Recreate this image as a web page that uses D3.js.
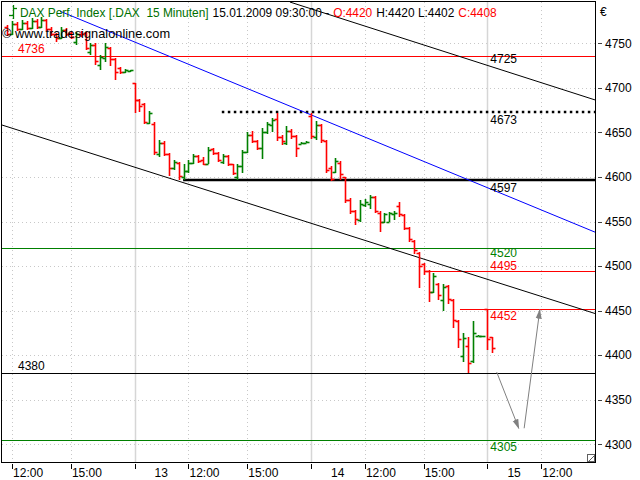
<!DOCTYPE html>
<html><head><meta charset="utf-8">
<script src="https://cdn.jsdelivr.net/npm/d3@7"></script>
<style>html,body{margin:0;padding:0;background:#fff;} svg{display:block;font-family:"Liberation Sans",Arial,sans-serif;}</style>
</head><body><svg id="c" width="640" height="480"></svg>
<script>
// ---- data ----
const firstBar = 10; // index of first visible 15-minute bar (36 bars per day)
const opens  = [4768,4761,4772,4766,4773,4767,4775,4768,4776,4766,4760,4756,4765,4762,4752,4761,4762,4740,4748,4726,4733,4745,4732,4722,4718,4719,
  4705,4686,4682,4661,4660,4626,4638,4626,4610,4616,4600,4607,4616,4624,4619,4614,4631,4627,4617,4623,4614,4600,4612,4628,4647,4640,4633,4650,4658,4665,4645,4638,4652,4646,4637,4638,
  4668,4645,4658,4640,4610,4606,4616,4600,4574,4562,4552,4568,4570,4578,4560,4549,4550,4558,4567,4557,4543,4528,4515,4502,4495,4471,4480,4462,4478,4462,4438,4399,4410,4393,4422,4421,
  4452,4420];
const highs  = [4770,4775,4774,4776,4775,4778,4777,4779,4777,4768,4762,4768,4767,4764,4763,4764,4763,4750,4750,4737,4750,4746,4733,4723,4721,4720,
  4706,4687,4683,4674,4662,4641,4640,4627,4619,4617,4614,4619,4626,4625,4622,4634,4632,4628,4626,4625,4614,4614,4630,4650,4652,4641,4655,4662,4666,4672,4647,4657,4654,4647,4639,4640,
  4672,4663,4659,4641,4612,4621,4618,4600,4576,4563,4574,4575,4580,4579,4562,4560,4561,4562,4572,4558,4544,4529,4516,4503,4496,4492,4481,4480,4479,4463,4440,4425,4420,4438,4423,4422,
  4452,4420];
const lows   = [4758,4759,4764,4765,4765,4766,4766,4767,4764,4758,4752,4755,4758,4755,4748,4757,4742,4737,4726,4720,4729,4725,4709,4715,4717,4718,
  4672,4673,4659,4659,4625,4622,4623,4601,4608,4597,4597,4605,4614,4616,4613,4614,4625,4617,4615,4612,4602,4597,4605,4627,4638,4630,4620,4648,4650,4640,4636,4636,4643,4622,4637,4638,
  4643,4642,4638,4604,4595,4604,4597,4571,4559,4546,4550,4566,4564,4560,4538,4548,4549,4552,4555,4540,4527,4514,4475,4490,4460,4470,4462,4450,4458,4430,4408,4392,4380,4391,4421,4420,
  4406,4402];
const closes = [4761,4772,4766,4773,4767,4775,4768,4776,4766,4760,4756,4765,4760,4757,4761,4760,4745,4748,4730,4735,4746,4732,4718,4718,4720,4720,
  4686,4680,4662,4672,4628,4638,4626,4610,4617,4601,4607,4616,4624,4618,4614,4630,4627,4619,4623,4614,4604,4612,4628,4647,4640,4633,4650,4660,4664,4645,4640,4652,4646,4632,4638,4639,
  4646,4658,4641,4608,4598,4618,4603,4574,4562,4553,4570,4572,4578,4562,4549,4558,4560,4560,4558,4543,4530,4518,4500,4495,4471,4489,4467,4477,4463,4440,4418,4419,4391,4425,4422,4421,
  4418,4408];

const yTicks = [4300,4350,4400,4450,4500,4550,4600,4650,4700,4750];
const xTickIndex  = [11,23,36,47,59,72,83,95,108,119];
const xTickLabels = ["12:00","15:00","13","12:00","15:00","14","12:00","15:00","15","12:00"];
const dayTickIndex = [36,72,108];

const levelValues = [4736,4673,4597,4520,4495,4452,4380,4305];
const levelStart  = [null,53.8,45.9,null,95.5,102.4,null,null];
const levelLabels = ["4736","4673","4597","4520","4495","4452","4380","4305"];

const trendBlue  = [[20.8,4786],[130,4538]];
const trendUpper = [[67.7,4796.3],[130,4686.4]];
const trendLower = [[8.94,4658.3],[130,4446.7]];
const trendUpperLabel = "4725";
const arrowDown = [[109.9,4381],[114.4,4318]];
const arrowUp   = [[115.5,4318],[118.7,4451]];

const titleParts = ["DAX Perf. Index [.DAX  15 Minuten]", "15.01.2009 09:30:00 -", "O:4420", "H:4420 L:4402", "C:4408"];
const titleColors = ["#007000", "#000", "#ff0000", "#000", "#ff0000"];

// ---- drawing ----
const svg = d3.select("#c");
const L = 2, R = 595, T = 2, B = 462;
const x = d3.scaleLinear().domain([8.94, 129.96]).range([L, R]);
const y = d3.scaleLinear().domain([4280.14, 4796.35]).range([B, T]);
const RED = "#ff0000", GREEN = "#008000";

svg.append("defs").append("clipPath").attr("id","plot")
  .append("rect").attr("x",L).attr("y",T).attr("width",R-L).attr("height",B-T);
svg.select("defs").append("marker").attr("id","ah")
  .attr("viewBox","0 0 10 10").attr("refX",9).attr("refY",5)
  .attr("markerWidth",10).attr("markerHeight",14).attr("markerUnits","userSpaceOnUse")
  .attr("orient","auto")
  .append("path").attr("d","M0,2 L10,5 L0,8 Z").attr("fill","#808080");

const g = svg.append("g").attr("clip-path","url(#plot)");

// grid
g.selectAll(".hg").data(yTicks).enter().append("line")
  .attr("x1",L).attr("x2",R).attr("y1",d=>Math.round(y(d))+0.5).attr("y2",d=>Math.round(y(d))+0.5)
  .attr("stroke","#c8c8c8").attr("stroke-dasharray","1,3");
g.selectAll(".vg").data(xTickIndex).enter().append("line")
  .attr("x1",d=>Math.round(x(d))+0.5).attr("x2",d=>Math.round(x(d))+0.5).attr("y1",T).attr("y2",B)
  .attr("stroke",d=>dayTickIndex.includes(d)?"#d6d6d6":"#c8c8c8")
  .attr("stroke-width",d=>dayTickIndex.includes(d)?1.5:1)
  .attr("stroke-dasharray",d=>dayTickIndex.includes(d)?null:"1,3");

// level lines
const lvlStyle = [
  {c:RED, w:1, side:"L", dy:-3},
  {c:"#000", w:2.5, dash:"2.5,3.5", side:"R", dy:12.5},
  {c:"#000", w:2.5, side:"R", dy:12.5},
  {c:GREEN, w:1, side:"R", dy:8.8},
  {c:RED, w:1, side:"R", dy:-0.3},
  {c:RED, w:1, side:"R", dy:11.5},
  {c:"#000", w:1, side:"L", dy:-3},
  {c:GREEN, w:1, side:"R", dy:11}
];
levelValues.forEach((v,i)=>{
  const s = lvlStyle[i];
  const yy = Math.round(y(v)) + (s.w%2===1?0.5:0);
  g.append("line").attr("x1", levelStart[i]==null? L : x(levelStart[i])).attr("x2",R)
    .attr("y1",yy).attr("y2",yy).attr("stroke",s.c).attr("stroke-width",s.w)
    .attr("stroke-dasharray",s.dash||null);
});

// trend lines
const tl = d3.line().x(d=>x(d[0])).y(d=>y(d[1]));
g.append("path").attr("d",tl(trendUpper)).attr("stroke","#000").attr("fill","none");
g.append("path").attr("d",tl(trendLower)).attr("stroke","#000").attr("fill","none");
g.append("path").attr("d",tl(trendBlue)).attr("stroke","#0000ff").attr("fill","none");

// OHLC bars
const bars = opens.map((o,i)=>({i:firstBar+i, o, h:highs[i], l:lows[i], c:closes[i]}));
const bg = g.append("g");
const BW = 1.6;
bars.forEach(b=>{
  const xx = Math.round(x(b.i)) + 0.5;
  const col = b.c >= b.o ? GREEN : RED;
  const yh = Math.round(y(b.h)), yl = Math.round(y(b.l));
  bg.append("line").attr("x1",xx).attr("x2",xx).attr("y1",yh).attr("y2",Math.max(yl,yh+1)).attr("stroke",col).attr("stroke-width",BW);
  const yo = Math.round(y(b.o))+0.5, yc = Math.round(y(b.c))+0.5;
  bg.append("line").attr("x1",xx-3).attr("x2",xx).attr("y1",yo).attr("y2",yo).attr("stroke",col).attr("stroke-width",BW);
  bg.append("line").attr("x1",xx).attr("x2",xx+3).attr("y1",yc).attr("y2",yc).attr("stroke",col).attr("stroke-width",BW);
});

// arrows
[arrowDown, arrowUp].forEach(a=>{
  g.append("path").attr("d",tl(a)).attr("stroke","#808080").attr("fill","none").attr("marker-end","url(#ah)");
});

// level labels
const labelX = x(109) - 2;
levelValues.forEach((v,i)=>{
  const s = lvlStyle[i];
  const yy = y(v);
  svg.append("text").attr("x", s.side==="L"? 18 : labelX)
    .attr("y", yy + s.dy)
    .attr("fill", s.c).attr("font-size",12).text(levelLabels[i]);
});
// upper trend label (value of the trend line at the last bar)
{
  const t = (109 - trendUpper[0][0])/(trendUpper[1][0]-trendUpper[0][0]);
  const v = trendUpper[0][1] + t*(trendUpper[1][1]-trendUpper[0][1]);
  svg.append("text").attr("x",labelX).attr("y",y(v)-4).attr("font-size",12).attr("fill","#000").text(trendUpperLabel);
}

// watermark
svg.append("text").attr("x",2).attr("y",38).attr("font-size",12.8).attr("fill","#000").text("© www.tradesignalonline.com");

// title icon + title (flowed, fitted to the reference's span 20..497)
const ic = svg.append("g").attr("stroke",GREEN).attr("stroke-width",1.3);
ic.append("line").attr("x1",13.5).attr("x2",13.5).attr("y1",5).attr("y2",19);
ic.append("line").attr("x1",9).attr("x2",13.5).attr("y1",15.5).attr("y2",15.5);
ic.append("line").attr("x1",13.5).attr("x2",17).attr("y1",8.5).attr("y2",8.5);
{
  let fs = 12;
  const texts = titleParts.map((p,i)=>svg.append("text").attr("y",17).attr("font-size",fs)
    .attr("fill",titleColors[i]).style("white-space","pre").text(p));
  const gap = 4;
  let total = texts.reduce((s,t)=>s+t.node().getComputedTextLength(),0) + gap*(texts.length-1);
  if (total > 477) { fs = fs*477/total; texts.forEach(t=>t.attr("font-size",fs)); }
  let cx = 20;
  texts.forEach(t=>{ t.attr("x",cx); cx += t.node().getComputedTextLength() + gap; });
}

// frame
svg.append("rect").attr("x",L-0.5).attr("y",T-0.5).attr("width",R-L+1).attr("height",B-T+1)
  .attr("fill","none").attr("stroke","#000");
// resize glyph
svg.append("rect").attr("x",R-7.5).attr("y",B-7.5).attr("width",7).attr("height",7).attr("fill","#fff").attr("stroke","#606060");
svg.append("line").attr("x1",R-6).attr("y1",B-1).attr("x2",R-1).attr("y2",B-6).attr("stroke","#606060");

// right axis
svg.selectAll(".yt").data(yTicks).enter().append("line")
  .attr("x1",R+3).attr("x2",R+7).attr("y1",d=>Math.round(y(d))+0.5).attr("y2",d=>Math.round(y(d))+0.5).attr("stroke","#404040");
svg.selectAll(".yl").data(yTicks).enter().append("text")
  .attr("x",R+10).attr("y",d=>y(d)).attr("dy","0.35em").attr("font-size",12).attr("fill","#000").text(d=>d);
svg.append("text").attr("x",R+5).attr("y",16).attr("font-size",12).attr("fill","#000").text("€");

// bottom axis
svg.selectAll(".xt").data(xTickIndex).enter().append("line")
  .attr("x1",d=>Math.round(x(d))+0.5).attr("x2",d=>Math.round(x(d))+0.5).attr("y1",B+2).attr("y2",B+7).attr("stroke","#000");
svg.selectAll(".xl").data(xTickIndex).enter().append("text")
  .attr("x",(d,i)=>x(d) + (dayTickIndex.includes(d)? 20 : 1)).attr("y",B+15)
  .attr("font-size",12).attr("fill","#000").text((d,i)=>xTickLabels[i]);
</script></body></html>
